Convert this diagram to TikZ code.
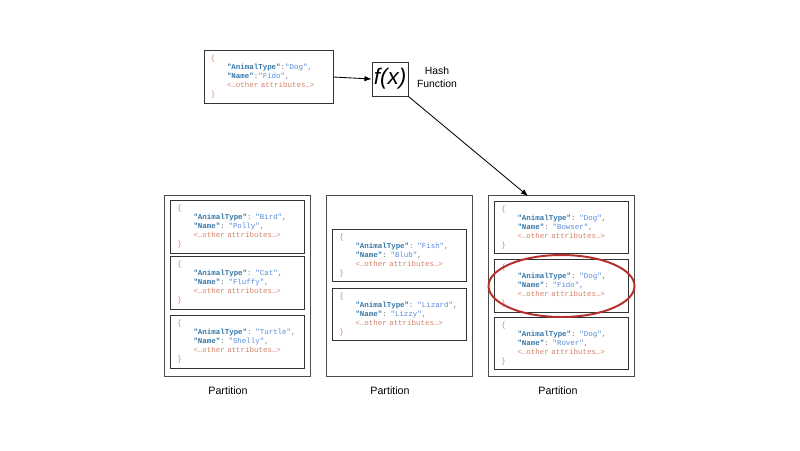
\documentclass[tikz,border=0pt]{standalone}
\usepackage{fontspec}
\setmainfont{Liberation Sans}
\setsansfont{Liberation Sans}
\setmonofont{Liberation Mono}
\usepackage{xcolor}
\usetikzlibrary{arrows.meta}

\definecolor{jkey}{HTML}{3476A8}
\definecolor{jval}{HTML}{5A8ADB}
\definecolor{jbrace}{HTML}{D4806A}
\definecolor{jpunct}{HTML}{777777}
\definecolor{circred}{HTML}{B5302C}

\newcommand{\jind}{\hspace*{11.4pt}}
\newcommand{\animalrec}[2]{%
  {\color{jbrace}\{}\\
  \jind{\color{jkey}\textbf{"AnimalType"}}: {\color{jval}"#1"},\\
  \jind{\color{jkey}\textbf{"Name"}}: {\color{jval}"#2"},\\
  \jind{\color{jbrace}<…other attributes…>}\\
  {\color{jbrace}\}}}

\tikzset{
  record/.style={draw=black!80, line width=0.7pt, rectangle,
    minimum width=3.325cm, minimum height=1.25cm, text width=3.0cm,
    inner xsep=4.3pt, align=left, text=jpunct,
    font=\fontsize{5.3}{6.4}\selectfont\ttfamily},
  partbox/.style={draw=black!70, line width=0.7pt, rectangle,
    minimum width=3.625cm, minimum height=4.5cm},
  plabel/.style={font=\fontsize{7.6}{9}\selectfont\sffamily}
}

\begin{document}
\begin{tikzpicture}[x=0.025cm, y=-0.025cm]
        \useasboundingbox (0,0) rectangle (800,450);

        % incoming record and hash function
            \node[record, minimum width=3.2cm, text width=2.9cm] (fido) at (269,77) {%
              {\color{jbrace}\{}\\
              \jind{\color{jkey}\textbf{"AnimalType"}}:{\color{jval}"Dog"},\\
              \jind{\color{jkey}\textbf{"Name"}}:{\color{jval}"Fido"},\\
              \jind{\color{jbrace}<…other attributes…>}\\
              {\color{jbrace}\}}};
            \node[draw=black!80, line width=0.7pt, minimum width=0.9cm, minimum height=0.85cm, inner sep=0pt,
              font=\fontsize{16}{18}\selectfont\sffamily\itshape] (fx) at (390,79) {f(x)};
            \node[align=center, font=\fontsize{7.4}{9.2}\selectfont\sffamily] (hashlbl) at (437,77) {Hash\\Function};
            \draw[-{Latex[length=5pt,width=4pt]}, line width=0.6pt] (fido.east) -- (fx.west);

        % partitions
            \node[partbox] (part1) at (237.5,286) {};
            \node[partbox] (part2) at (399.5,286) {};
            \node[partbox] (part3) at (561.5,286) {};
            \node[plabel] (plab1) at (228,391) {Partition};
            \node[plabel] (plab2) at (390,391) {Partition};
            \node[plabel] (plab3) at (558,391) {Partition};

        % records in each partition
            \node[record] (bird) at (237.5,227) {\animalrec{Bird}{Polly}};
            \node[record] (cat) at (237.5,283) {\animalrec{Cat}{Fluffy}};
            \node[record] (turtle) at (237.5,342) {\animalrec{Turtle}{Shelly}};
            \node[record] (fish) at (399.5,255.5) {\animalrec{Fish}{Blub}};
            \node[record] (lizard) at (399.5,314.5) {\animalrec{Lizard}{Lizzy}};
            \node[record] (bowser) at (561.5,227.5) {\animalrec{Dog}{Bowser}};
            \node[record] (fidostored) at (561.5,286) {\animalrec{Dog}{Fido}};
            \node[record] (rover) at (561.5,343.5) {\animalrec{Dog}{Rover}};

        % hash result
            \coordinate (hit) at (528,196);
            \draw[-{Latex[length=5pt,width=4pt]}, line width=0.6pt] (fx.south east) -- (hit);
            \draw[circred, line width=1.4pt] (fidostored.center) ellipse (73 and 31);
\end{tikzpicture}
\end{document}
